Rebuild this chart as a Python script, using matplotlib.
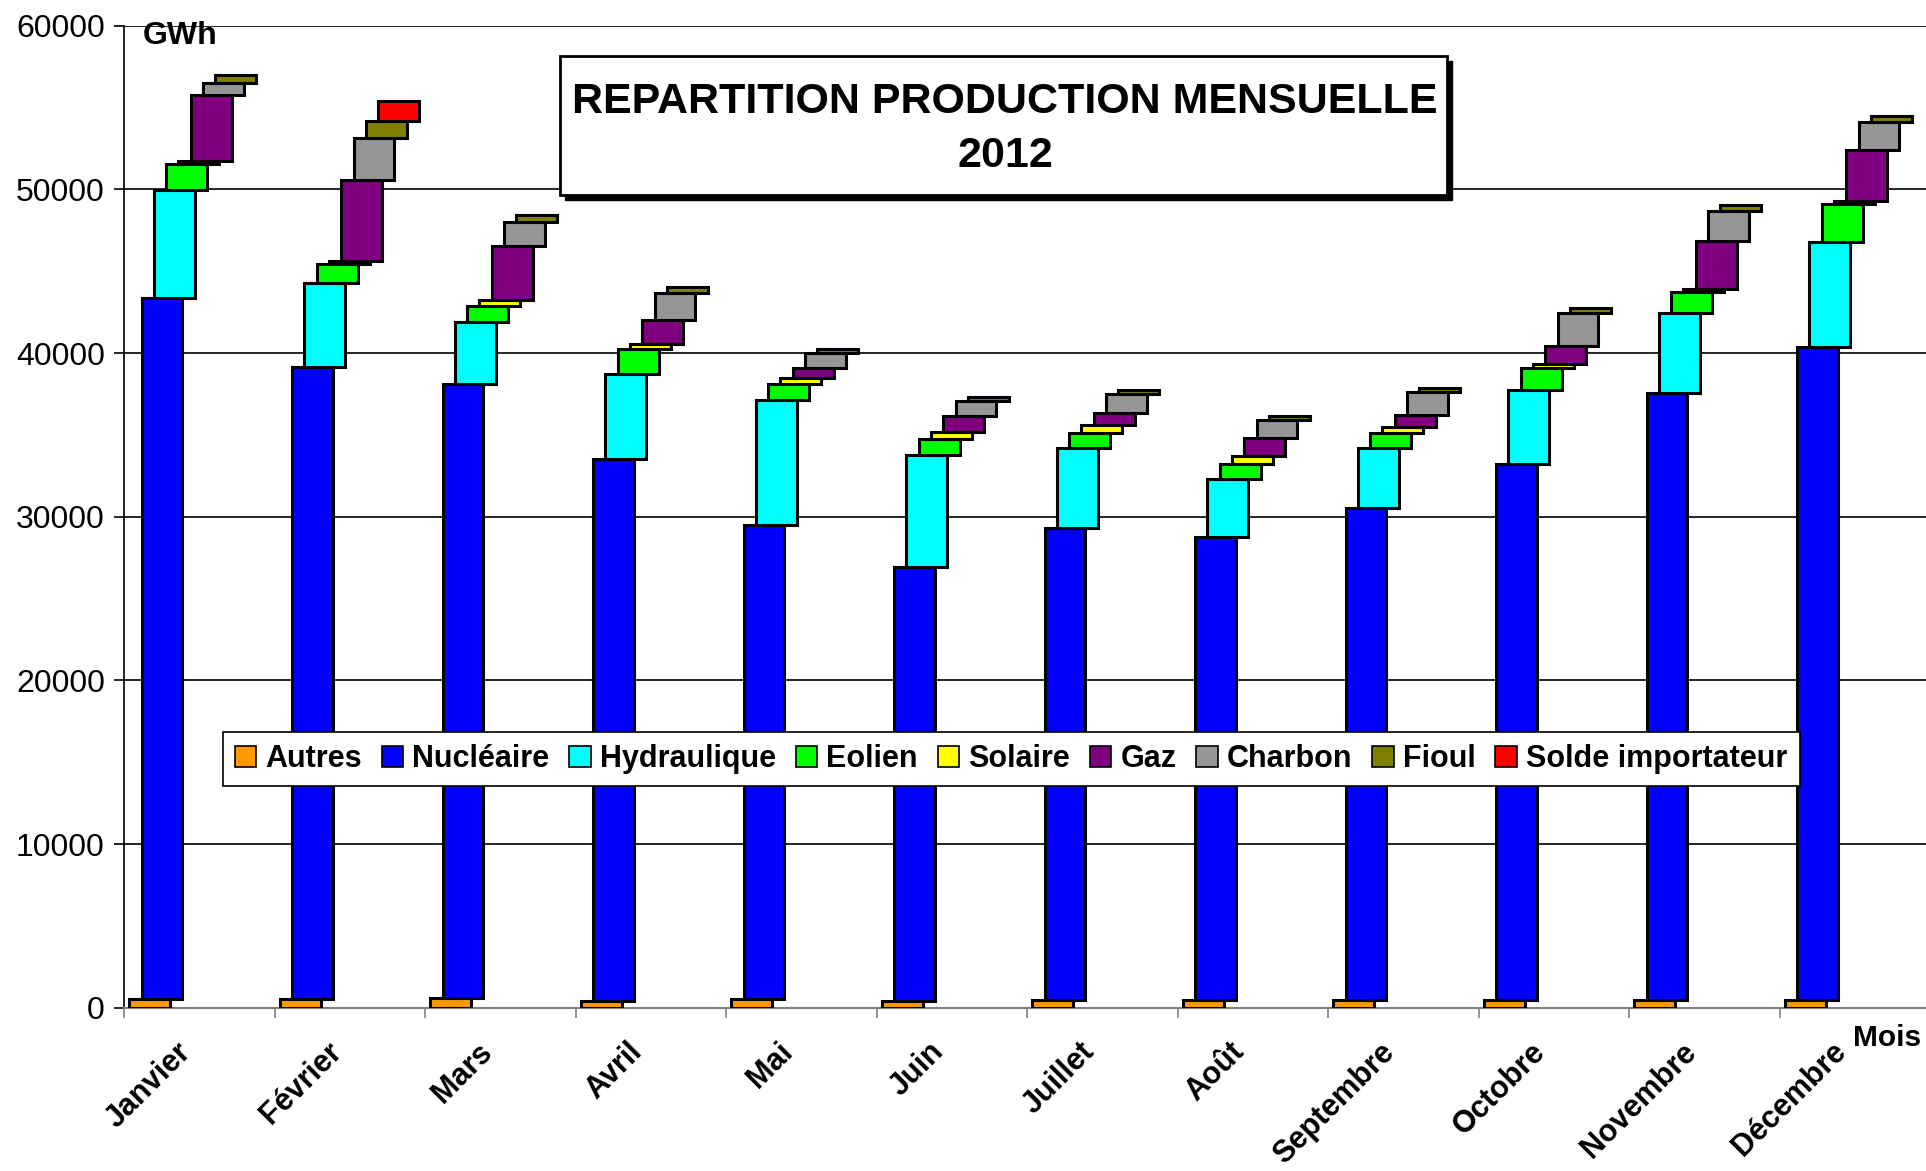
import numpy as np
import matplotlib
matplotlib.use("Agg")
import matplotlib.pyplot as plt
from matplotlib.patches import Patch, Rectangle

plt.rcParams["font.family"] = ["Liberation Sans", "DejaVu Sans"]

MOIS = ["Janvier", "Février", "Mars", "Avril", "Mai", "Juin", "Juillet",
        "Août", "Septembre", "Octobre", "Novembre", "Décembre"]
SOURCES = ["Autres", "Nucléaire", "Hydraulique", "Eolien", "Solaire", "Gaz",
           "Charbon", "Fioul", "Solde importateur"]
COULEURS = ["#FF9900", "#0000FF", "#00FFFF", "#00FF00", "#FFFF00", "#800080",
            "#969696", "#808000", "#FF0000"]

# GWh par mois
autres = [510, 510, 570, 410, 510, 430, 500, 500, 500, 500, 500, 500]
nucleaire = [42827, 38629, 37523, 33101, 28986, 26518, 28809, 28245, 30017,
             32724, 37080, 39873]
hydraulique = [6629, 5163, 3826, 5212, 7638, 6807, 4873, 3562, 3665, 4521,
               4852, 6434]
eolien = [1570, 1124, 978, 1528, 978, 996, 917, 898, 917, 1325, 1320, 2304]
solaire = [204, 204, 367, 324, 385, 446, 489, 526, 403, 263, 183, 183]
gaz = [4031, 4947, 3280, 1428, 611, 942, 752, 1063, 733, 1100, 2915, 3117]
charbon = [716, 2586, 1467, 1651, 880, 935, 1161, 1118, 1406, 1999, 1833, 1711]
fioul = [489, 1020, 446, 366, 282, 262, 245, 244, 245, 306, 367, 385]
solde = [0, 1223, 0, 0, 0, 0, 0, 0, 0, 0, 0, 0]

series = [autres, nucleaire, hydraulique, eolien, solaire, gaz, charbon, fioul, solde]

OFF0 = 0.033     # decalage de la premiere barre dans la categorie
STEP = 0.0817    # decalage entre series
BAR_W = 0.272

fig = plt.figure(figsize=(19.26, 11.71), dpi=100)
ax = fig.add_axes([124.3 / 1926, 163.3 / 1171, 1806 / 1926, 982 / 1171])

idx = np.arange(len(MOIS))
base = np.zeros(len(MOIS))
for k, (vals, col) in enumerate(zip(series, COULEURS)):
    v = np.asarray(vals, float)
    m = v > 0
    ax.bar(idx[m] + OFF0 + k * STEP, v[m], width=BAR_W, bottom=base[m],
           align="edge", color=col, edgecolor="black", linewidth=2.2, zorder=3)
    base = base + v

ax.set_xlim(0, 12)
ax.set_ylim(0, 60000)
ax.set_yticks(np.arange(0, 60001, 10000))
ax.yaxis.grid(True, color="black", linewidth=1.2)
ax.set_axisbelow(True)
ax.tick_params(axis="y", labelsize=23, length=7, width=1.2, direction="out", pad=7)
ax.set_xticks(np.arange(0, 13))
ax.set_xticklabels([])
ax.tick_params(axis="x", length=7, width=1.2, color="#808080", direction="out")
for s in ("top", "right"):
    ax.spines[s].set_visible(False)
ax.spines["left"].set_linewidth(1.2)
ax.spines["bottom"].set_color("#808080")
ax.spines["bottom"].set_linewidth(1.5)

for i, nom in enumerate(MOIS):
    ax.annotate(nom, xy=(i + 0.5, 0), xycoords=("data", "axes fraction"),
                xytext=(-17, -21), textcoords="offset points",
                rotation=45, rotation_mode="anchor", ha="right", va="top",
                fontsize=22, fontweight="bold")

fig.text(143 / 1926, 1 - 36 / 1171, "GWh", ha="left", va="center",
         fontsize=23, fontweight="bold")
fig.text(1853 / 1926, 1 - 1038 / 1171, "Mois", ha="left", va="center",
         fontsize=21.5, fontweight="bold")

# cadre du titre avec ombre
x0, y0, w, h = 560 / 1926, 976 / 1171, 887 / 1926, 138.5 / 1171
fig.patches.append(Rectangle((x0 + 5 / 1926, y0 - 5 / 1171), w, h,
                             transform=fig.transFigure, facecolor="black",
                             edgecolor="black", zorder=4))
fig.patches.append(Rectangle((x0, y0), w, h, transform=fig.transFigure,
                             facecolor="white", edgecolor="black",
                             linewidth=2, zorder=5))
fig.text(1005 / 1926, 1 - 102 / 1171, "REPARTITION PRODUCTION MENSUELLE",
         ha="center", va="center", fontsize=31, fontweight="bold", zorder=6)
fig.text(1005 / 1926, 1 - 156 / 1171, "2012", ha="center", va="center",
         fontsize=31, fontweight="bold", zorder=6)

handles = [Patch(facecolor=c, edgecolor="black", linewidth=1.2) for c in COULEURS]
leg = ax.legend(handles, SOURCES, ncol=9, loc="center",
                bbox_to_anchor=(0.491, 0.2533), frameon=True, fancybox=False,
                framealpha=1, edgecolor="black", borderpad=0.4,
                handlelength=0.7, handleheight=0.7, handletextpad=0.3,
                columnspacing=0.65, borderaxespad=0,
                prop={"size": 22, "weight": "bold"})
leg.get_frame().set_linewidth(1.2)
leg.set_zorder(10)

fig.savefig("out.png", dpi=100)
